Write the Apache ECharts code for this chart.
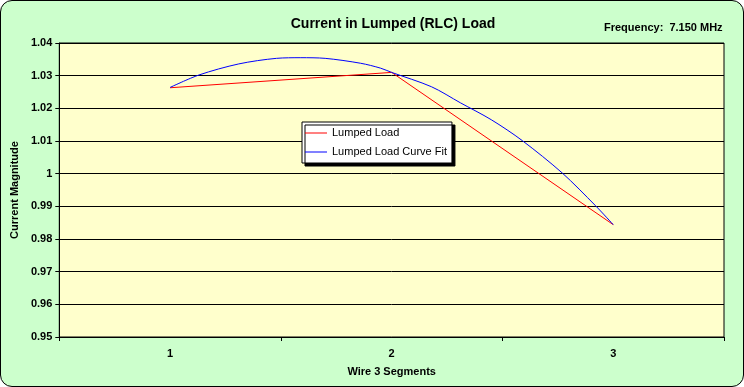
<!DOCTYPE html>
<html><head><meta charset="utf-8">
<script src="https://cdn.jsdelivr.net/npm/echarts@6/dist/echarts.min.js"></script>
<style>
html,body{margin:0;padding:0;background:#fff;}
#c{width:744px;height:387px;box-sizing:border-box;border:1px solid #000;border-radius:12px;background:#ccffcc;overflow:hidden;}
</style></head>
<body><div id="c"></div>
<script>
const categories = ['1','2','3'];
const yTicks = [0.95,0.96,0.97,0.98,0.99,1,1.01,1.02,1.03,1.04];
const lumpedX = [1, 2, 3];
const lumpedY = [1.0263, 1.0310, 0.9844];
const fitX = [1, 1.13, 1.31, 1.48, 1.59, 1.70, 1.86, 1.95, 2, 2.18, 2.31, 2.45, 2.59, 2.77, 2.92, 3];
const fitY = [1.0264, 1.0302, 1.0336, 1.0353, 1.0355, 1.0353, 1.0338, 1.0323, 1.0310, 1.0266, 1.0217, 1.0165, 1.0101, 1.0002, 0.9902, 0.9844];

const font = 'Arial, "Liberation Sans", sans-serif';
const chart = echarts.init(document.getElementById('c'), null, {renderer:'canvas'});
chart.setOption({
  animation:false,
  backgroundColor:'transparent',
  title:[
    {text:'Current in Lumped (RLC) Load', left:387, top:11, textAlign:'center',
     textStyle:{fontFamily:font, fontSize:14, fontWeight:'bold', color:'#000'}},
    {text:'Frequency:  7.150 MHz', left:598, top:16,
     textStyle:{fontFamily:font, fontSize:11, fontWeight:'bold', color:'#000'}}
  ],
  grid:{left:57, right:19, top:42, bottom:49, show:true, backgroundColor:'#ffffcc', borderColor:'#000', borderWidth:1},
  legend:{
    orient:'vertical', left:301, top:121,
    data:[{name:'Lumped Load', icon:'rect'},{name:'Lumped Load Curve Fit', icon:'rect'}],
    itemWidth:22, itemHeight:1, itemGap:5,
    padding:[4,5,4,3],
    backgroundColor:'#ffffff', borderColor:'#000', borderWidth:1,
    shadowColor:'rgba(0,0,0,1)', shadowBlur:0, shadowOffsetX:3, shadowOffsetY:3,
    textStyle:{fontFamily:font, fontSize:11, color:'#000', lineHeight:14}
  },
  xAxis:[
    {type:'category', data:categories, boundaryGap:true, position:'bottom',
     axisLine:{lineStyle:{color:'#000', width:1}},
     axisTick:{show:true, length:4, lineStyle:{color:'#000'}},
     axisLabel:{fontFamily:font, fontSize:11, fontWeight:'bold', color:'#000', margin:11},
     name:'Wire 3 Segments', nameLocation:'middle', nameGap:29,
     nameTextStyle:{fontFamily:font, fontSize:11, fontWeight:'bold', color:'#000'},
     splitLine:{show:false}},
    {type:'value', min:0.5, max:3.5, show:false, position:'bottom'}
  ],
  yAxis:{type:'value', min:yTicks[0], max:yTicks[yTicks.length-1], interval:0.01,
    axisLine:{show:true, lineStyle:{color:'#000'}},
    axisTick:{show:true, length:4, lineStyle:{color:'#000'}},
    axisLabel:{fontFamily:font, fontSize:11, fontWeight:'bold', color:'#000', margin:7,
      formatter:v=>String(+v.toFixed(2))},
    splitLine:{show:true, lineStyle:{color:'#000', width:1}},
    name:'Current Magnitude', nameLocation:'middle', nameGap:37,
    nameTextStyle:{fontFamily:font, fontSize:11, fontWeight:'bold', color:'#000'}
  },
  series:[
    {name:'Lumped Load', type:'line', xAxisIndex:1, showSymbol:false, symbol:'none',
     data:lumpedX.map((x,i)=>[x,lumpedY[i]]),
     lineStyle:{color:'#ff0000', width:1}, itemStyle:{color:'#ff0000'}},
    {name:'Lumped Load Curve Fit', type:'line', xAxisIndex:1, showSymbol:false, symbol:'none', smooth:0.3,
     data:fitX.map((x,i)=>[x,fitY[i]]),
     lineStyle:{color:'#0000ff', width:1}, itemStyle:{color:'#0000ff'}}
  ]
});
</script></body></html>
